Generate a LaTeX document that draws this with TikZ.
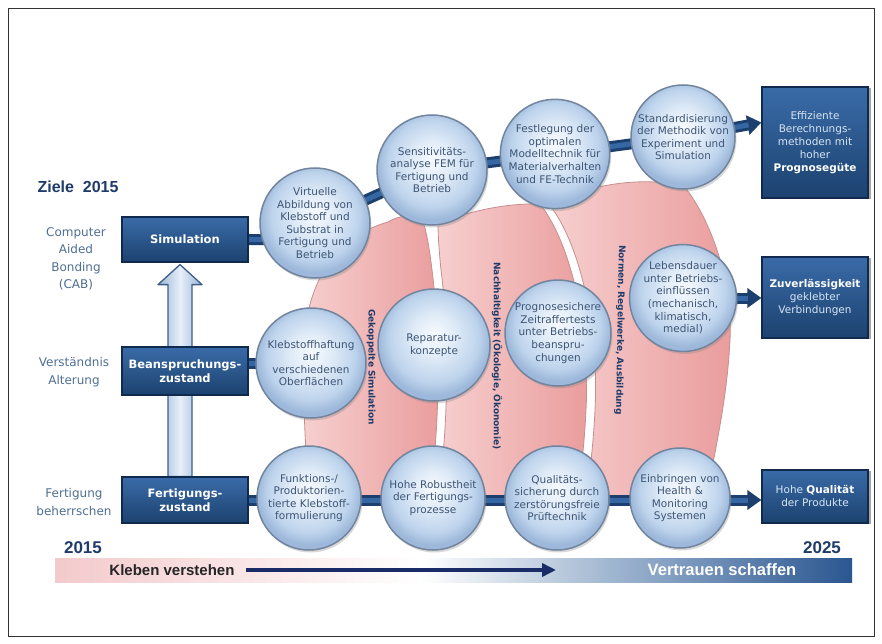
\documentclass[tikz,border=0pt]{standalone}
\usepackage{fontspec}
\setmainfont{DejaVu Sans}
\newfontfamily\lib{Liberation Sans}
\usetikzlibrary{arrows.meta,shadows,calc}

\definecolor{txtdark}{HTML}{1F3B6B}
\definecolor{lbl}{HTML}{4F6F93}
\definecolor{ctext}{HTML}{3D5575}
\definecolor{boxtop}{HTML}{3A6BA8}
\definecolor{boxbot}{HTML}{1C426F}
\definecolor{boxline}{HTML}{102A4E}
\definecolor{tubeout}{HTML}{1D3F6E}
\definecolor{tubein}{HTML}{3567A5}
\definecolor{gA}{HTML}{F7FAFE}
\definecolor{gB}{HTML}{E1ECF8}
\definecolor{gC}{HTML}{BDD3EC}
\definecolor{gD}{HTML}{9DB8DA}
\definecolor{rim}{HTML}{72859E}
\definecolor{pinkL}{HTML}{F7CFCF}
\definecolor{pinkR}{HTML}{EA9C9C}
\definecolor{pinkline}{HTML}{C58F8F}
\definecolor{pk}{HTML}{F3CACC}
\definecolor{b1}{HTML}{8FA9C8}
\definecolor{b2}{HTML}{2A5690}
\definecolor{navy}{HTML}{1A2C68}
\definecolor{arrfill}{HTML}{E6EFF9}
\definecolor{arrside}{HTML}{9AB5D8}
\definecolor{arrline}{HTML}{3F5F8A}
\definecolor{tlight}{HTML}{D6E4F3}
\definecolor{framecol}{HTML}{333333}

\pgfdeclareradialshading{glass}{\pgfpoint{0bp}{5bp}}{color(0bp)=(gA); color(9bp)=(gB); color(20bp)=(gC); color(25bp)=(gD); color(50bp)=(gD)}
\pgfdeclarehorizontalshading{timeline}{100bp}{color(0bp)=(pk); color(25bp)=(pk); color(48bp)=(white); color(62bp)=(b1); color(75bp)=(b2); color(100bp)=(b2)}

\pgfdeclarelayer{bandlayer}
\pgfdeclarelayer{tubelayer}
\pgfsetlayers{bandlayer,tubelayer,main}

\begin{document}
\begin{tikzpicture}[x=1pt,y=-1pt,
 ball/.style={circle, shading=glass, draw=rim, line width=1.5pt, inner sep=0pt, align=center,
   font=\fontsize{10.5}{12.6}\selectfont, text=ctext,
   drop shadow={shadow xshift=1.5pt, shadow yshift=-2.5pt, opacity=0.3}},
 stage/.style={rectangle, top color=boxtop, bottom color=boxbot, draw=boxline, line width=1.2pt,
   text=white, align=center, font=\bfseries\fontsize{11.5}{13.5}\selectfont, inner sep=2pt,
   minimum width=126pt},
 goal/.style={rectangle, top color=boxtop, bottom color=boxbot, draw=boxline, line width=1.2pt,
   align=center, inner sep=1pt, minimum width=106pt,
   font=\fontsize{10.5}{13}\selectfont, text=tlight,
   drop shadow={shadow xshift=3pt, shadow yshift=-1pt, opacity=0.7}},
 lefttext/.style={align=center, text=lbl, font=\fontsize{12}{17.5}\selectfont},
 band/.style={left color=pinkL, right color=pinkR, draw=pinkline, line width=0.8pt},
 tube/.style={draw=tubeout, line width=11pt, line join=round},
 tubecore/.style={draw=tubein, line width=5pt, line join=round},
 bandtext/.style={font=\bfseries\fontsize{9}{10}\selectfont, text=txtdark, inner sep=0pt},
 yeartext/.style={font=\lib\bfseries\fontsize{17}{17}\selectfont, text=txtdark},
]
\useasboundingbox (0,0) rectangle (882,644);

% ---------- left column ----------
\node[font=\lib\bfseries\fontsize{16}{16}\selectfont, text=txtdark] (ziele) at (78,187) {Ziele\ \ 2015};
\node[lefttext] (lcab) at (76,259) {Computer\\Aided\\Bonding\\(CAB)};
\node[lefttext] (lver) at (74,372) {Verständnis\\Alterung};
\node[lefttext] (lfer) at (74,502) {Fertigung\\beherrschen};

\node[stage, minimum height=45pt] (sim) at (185,239.5) {Simulation};
\node[stage, minimum height=48pt] (bean) at (185,371) {Beanspruchungs-\\zustand};
\node[stage, minimum height=46pt] (fert) at (185,500) {Fertigungs-\\zustand};

% ---------- goal boxes ----------
\node[goal, minimum height=111pt] (t1) at (815,142.5) {Effiziente\\Berechnungs-\\methoden mit\\hoher\\\textbf{\color{white}Prognosegüte}};
\node[goal, minimum height=81pt] (t2) at (815,297.5) {\textbf{\color{white}Zuverlässigkeit}\\geklebter\\Verbindungen};
\node[goal, minimum height=53pt] (t3) at (815,496.5) {Hohe \textbf{\color{white}Qualität}\\der Produkte};

% ---------- circles ----------
\node[ball, minimum size=110pt] (c1) at (315,223) {Virtuelle\\Abbildung von\\Klebstoff und\\Substrat in\\Fertigung und\\Betrieb};
\node[ball, minimum size=110pt] (c2) at (432,170) {Sensitivitäts-\\analyse FEM für\\Fertigung und\\Betrieb};
\node[ball, minimum size=106pt] (c3) at (555,154) {Festlegung der\\optimalen\\Modelltechnik für\\Materialverhalten\\und FE-Technik};
\node[ball, minimum size=104pt] (c4) at (683,137) {Standardisierung\\der Methodik von\\Experiment und\\Simulation};

\node[ball, minimum size=110pt] (c5) at (311,363) {Klebstoffhaftung\\auf\\verschiedenen\\Oberflächen};
\node[ball, minimum size=112pt] (c6) at (434,345) {Reparatur-\\konzepte};
\node[ball, minimum size=106pt] (c7) at (558,333) {Prognosesichere\\Zeitraffertests\\unter Betriebs-\\beanspru-\\chungen};
\node[ball, minimum size=106pt] (c8) at (683,298) {Lebensdauer\\unter Betriebs-\\einflüssen\\(mechanisch,\\klimatisch,\\medial)};

\node[ball, minimum size=104pt] (c9) at (309,498) {Funktions-/\\Produktorien-\\tierte Klebstoff-\\formulierung};
\node[ball, minimum size=104pt] (c10) at (433,498) {Hohe Robustheit\\der Fertigungs-\\prozesse};
\node[ball, minimum size=104pt] (c11) at (557,498) {Qualitäts-\\sicherung durch\\zerstörungsfreie\\Prüftechnik};
\node[ball, minimum size=100pt] (c12) at (680,498) {Einbringen von\\Health \&\\Monitoring\\Systemen};

% ---------- band labels ----------
\node[bandtext, rotate=-90] (bt1) at (371,367) {Gekoppelte Simulation};
\node[bandtext, rotate=-90] (bt2) at (497,356) {Nachhaltigkeit (Ökologie, Ökonomie)};
\node[bandtext, rotate=-91] (bt3) at (620,330) {Normen, Regelwerke, Ausbildung};

% ---------- timeline ----------
\node[shading=timeline, minimum width=797pt, minimum height=24pt, inner sep=0pt] (tl) at (453.5,570) {};
\node[font=\lib\bfseries\fontsize{15}{15}\selectfont, text=black!85] (kv) at (172,570) {Kleben verstehen};
\node[font=\lib\bfseries\fontsize{16.5}{16.5}\selectfont, text=white] (vs) at (722,570) {Vertrauen schaffen};
\coordinate (ar0) at (246,570);
\coordinate (ar1) at (556,570);
\draw[navy, line width=3.5pt, -{Triangle[length=14pt,width=13pt]}] (ar0) -- (ar1);
\node[yeartext] (y15) at (83,548) {2015};
\node[yeartext] (y25) at (822,548) {2025};

% ---------- connectors (tubes) ----------
\begin{pgfonlayer}{tubelayer}
 \draw[tube] (sim.east) -- (sim.east -| c1.center) -- (c1.center) -- (c2.center) -- (c3.center) -- (c4.center);
 \draw[tubecore] (sim.east) -- (sim.east -| c1.center) -- (c1.center) -- (c2.center) -- (c3.center) -- (c4.center);
 \draw[tube, -{Triangle[length=14pt,width=19pt]}] (c4.center) -- ([yshift=20pt]t1.west);
 \draw[tubecore, shorten >=13pt] (c4.center) -- ([yshift=20pt]t1.west);

 \draw[tube] (c5.center) -- (c5.center -| bean.east);
 \draw[tubecore] (c5.center) -- (c5.center -| bean.east);
 \draw[tube, -{Triangle[length=14pt,width=19pt]}] (c8.center) -- (c8.center -| t2.west);
 \draw[tubecore, shorten >=13pt] (c8.center) -- (c8.center -| t2.west);

 \draw[tube, -{Triangle[length=14pt,width=19pt]}] (fert.east) -- (fert.east -| t3.west);
 \draw[tubecore, shorten >=13pt] (fert.east) -- (fert.east -| t3.west);

 % vertical arrow
 \coordinate (up1) at ([xshift=-5pt]sim.south);
 \coordinate (up0) at ([xshift=-5pt]fert.north);
 \draw[arrline, line width=1.3pt, left color=arrside, right color=arrside, middle color=arrfill, line join=round]
   ($(up0)+(-12,0)$) -- ($(up1)+(-12,22)$) -- ($(up1)+(-22,22)$) -- ($(up1)+(0,2)$)
   -- ($(up1)+(22,22)$) -- ($(up1)+(12,22)$) -- ($(up0)+(12,0)$) -- cycle;
\end{pgfonlayer}

% ---------- bands ----------
\begin{pgfonlayer}{bandlayer}
 \fill[white] (0,0) rectangle (882,644);
 \draw[framecol, line width=0.9pt] (8,8) rectangle (874,636);
 \path[band] (388,222) .. controls (338,236) and (305,280) .. (304,350)
   .. controls (303,420) and (306,470) .. (312,500) -- (428,500)
   .. controls (440,440) and (441,340) .. (432,270)
   .. controls (429,245) and (426,230) .. (422,218)
   .. controls (410,214) and (398,216) .. (388,222) -- cycle;
 \path[band] (438,224) .. controls (470,210) and (510,203) .. (540,204)
   .. controls (572,245) and (590,330) .. (586,410)
   .. controls (584,450) and (580,480) .. (576,500) -- (437,500)
   .. controls (448,440) and (450,340) .. (441,270)
   .. controls (439,250) and (438,235) .. (438,224) -- cycle;
 \path[band] (549,204) .. controls (600,180) and (650,178) .. (684,186)
   .. controls (715,225) and (733,290) .. (730,340)
   .. controls (727,400) and (715,450) .. (706,500) -- (585,500)
   .. controls (589,480) and (593,450) .. (595,410)
   .. controls (599,330) and (581,245) .. (549,204) -- cycle;
\end{pgfonlayer}
\end{tikzpicture}
\end{document}
